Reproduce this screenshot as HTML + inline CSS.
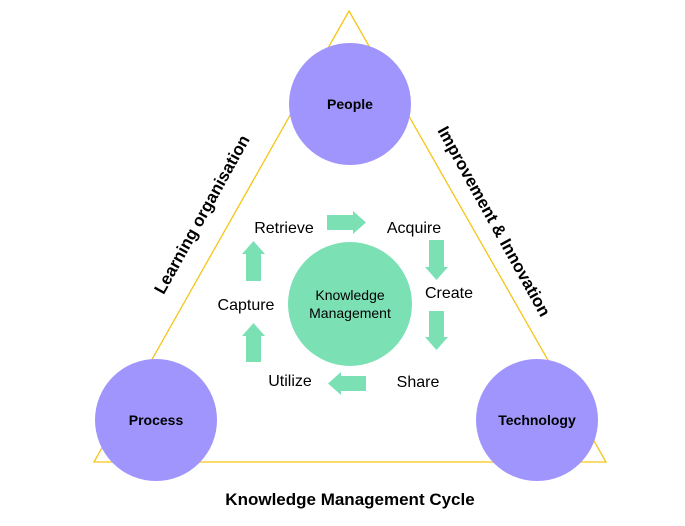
<!DOCTYPE html>
<html><head><style>
body{margin:0;background:#fff;}
svg{display:block;font-family:"Liberation Sans",Arial,sans-serif;}
</style></head><body>
<svg width="685" height="526" viewBox="0 0 685 526">
<polygon points="349,11 94,462 606,462" fill="none" stroke="#f5c518" stroke-width="1.3"/>
<circle cx="350" cy="104" r="61" fill="#a095fc"/>
<circle cx="156" cy="420" r="61" fill="#a095fc"/>
<circle cx="537" cy="420" r="61" fill="#a095fc"/>
<circle cx="350" cy="304" r="62" fill="#7ce0b5"/>
<g font-weight="bold" font-size="14" text-anchor="middle" fill="#000">
<text x="350" y="109">People</text>
<text x="156" y="425">Process</text>
<text x="537" y="425">Technology</text>
</g>
<text x="350" y="505" font-weight="bold" font-size="17" text-anchor="middle">Knowledge Management Cycle</text>
<text transform="translate(203,215) rotate(-61)" font-weight="bold" font-size="17" text-anchor="middle" dominant-baseline="middle">Learning organisation</text>
<text transform="translate(493,222) rotate(61)" font-weight="bold" font-size="17" text-anchor="middle" dominant-baseline="middle">Improvement &amp; Innovation</text>
<g font-size="14" text-anchor="middle">
<text x="350" y="300">Knowledge</text>
<text x="350" y="318">Management</text>
</g>
<g font-size="16" text-anchor="middle">
<text x="284" y="233">Retrieve</text>
<text x="414" y="233">Acquire</text>
<text x="449" y="298">Create</text>
<text x="418" y="387">Share</text>
<text x="290" y="386">Utilize</text>
<text x="246" y="310">Capture</text>
</g>
<g fill="#7ce0b5">
<polygon points="327,215 353,215 353,211 366,222.5 353,234 353,230 327,230"/>
<polygon points="429,240 444,240 444,267 448,267 436.5,280 425,267 429,267"/>
<polygon points="429,311 444,311 444,337 448,337 436.5,350 425,337 429,337"/>
<polygon points="366,376 341,376 341,372 328,383.5 341,395 341,391 366,391"/>
<polygon points="246,362 261,362 261,336 265,336 253.5,323 242,336 246,336"/>
<polygon points="246,281 261,281 261,254 265,254 253.5,241 242,254 246,254"/>
</g>
</svg>
</body></html>
